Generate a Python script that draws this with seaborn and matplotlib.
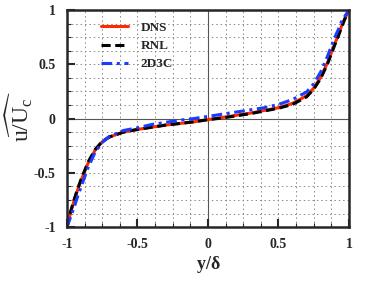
import matplotlib
matplotlib.use("Agg")
import matplotlib.pyplot as plt
import numpy as np
import pandas as pd
import seaborn as sns
from matplotlib.ticker import MultipleLocator

y_pos = [-1.0, -0.975, -0.95, -0.925, -0.9, -0.85, -0.8, -0.75, -0.7, -0.6, -0.5,
         -0.4, -0.3, -0.2, -0.1, 0.0, 0.1, 0.2, 0.3, 0.4, 0.5, 0.6, 0.7, 0.75,
         0.8, 0.85, 0.9, 0.925, 0.95, 0.975, 1.0]
u_dns = [-1.0, -0.87, -0.76, -0.66, -0.57, -0.41, -0.29, -0.215, -0.17, -0.125, -0.10,
         -0.08, -0.06, -0.045, -0.03, -0.01, 0.01, 0.03, 0.05, 0.075, 0.10, 0.14, 0.21, 0.28,
         0.38, 0.52, 0.69, 0.77, 0.86, 0.93, 1.0]
u_rnl = [-1.0, -0.86, -0.75, -0.65, -0.56, -0.40, -0.285, -0.21, -0.17, -0.125, -0.10,
         -0.08, -0.06, -0.045, -0.03, -0.01, 0.005, 0.025, 0.045, 0.07, 0.095, 0.13, 0.20, 0.27,
         0.37, 0.51, 0.68, 0.76, 0.85, 0.93, 1.0]
u_2d3c = [-1.0, -0.91, -0.82, -0.72, -0.63, -0.45, -0.31, -0.22, -0.165, -0.11, -0.085,
          -0.055, -0.035, -0.015, 0.0, 0.02, 0.04, 0.06, 0.08, 0.10, 0.13, 0.175, 0.245, 0.32,
          0.43, 0.58, 0.75, 0.82, 0.90, 0.95, 1.0]
tick_vals = [-1, -0.5, 0, 0.5, 1]
tick_text = ["-1", "-0.5", "0", "0.5", "1"]

df = pd.DataFrame({
    "y": y_pos * 3,
    "u": u_dns + u_rnl + u_2d3c,
    "case": ["DNS"] * len(y_pos) + ["RNL"] * len(y_pos) + ["2D3C"] * len(y_pos),
})

sns.set_style("ticks")
plt.rcParams["font.family"] = ["Liberation Serif", "DejaVu Serif"]
plt.rcParams["mathtext.fontset"] = "custom"
plt.rcParams["mathtext.rm"] = "Liberation Serif"
plt.rcParams["mathtext.bf"] = "Liberation Serif:bold"

fig = plt.figure(figsize=(3.74, 2.84), dpi=100)
ax = fig.add_axes([0.179, 0.20, 0.754, 0.765])

# dotted grid at every 0.125
for v in np.arange(-1, 1.001, 0.125):
    if abs(v) < 1e-9 or abs(abs(v) - 1) < 1e-9:
        continue
    ax.axvline(v, color="#888888", lw=0.7, ls=(0, (1.5, 3)), zorder=0)
    ax.axhline(v, color="#888888", lw=0.7, ls=(0, (1.5, 3)), zorder=0)
ax.axvline(0, color="#555555", lw=0.8, zorder=0)
ax.axhline(0, color="#555555", lw=0.8, zorder=0)

styles = {"DNS": ("#ff2a00", "-"), "RNL": ("black", (0, (3, 1.5))),
          "2D3C": ("#1a3cff", (0, (3.5, 1.5, 1, 1.5)))}
for case in ["DNS", "RNL", "2D3C"]:
    color, ls = styles[case]
    sns.lineplot(data=df[df["case"] == case], x="y", y="u", ax=ax, color=color,
                 linestyle=ls, lw=2.2, label=case, sort=False, errorbar=None)

ax.set_xlim(-1, 1)
ax.set_ylim(-1, 1)
ax.set_xticks(tick_vals, tick_text, fontweight="bold")
ax.set_yticks(tick_vals, tick_text, fontweight="bold")
ax.xaxis.set_minor_locator(MultipleLocator(0.125))
ax.yaxis.set_minor_locator(MultipleLocator(0.125))
ax.tick_params(which="major", direction="in", length=6, width=1.5, labelsize=10, pad=8)
ax.tick_params(which="minor", direction="in", length=3, width=0.8)
for sp in ax.spines.values():
    sp.set_linewidth(1.8)

ax.set_xlabel(r"y/$\mathbf{\delta}$", fontsize=13, fontweight="bold", labelpad=2)
ax.set_ylabel(r"$\widehat{\mathrm{u/U_c}}$", fontsize=17)
ax.yaxis.set_label_coords(-0.115, 0.51)

leg = ax.legend(loc="upper left", frameon=False, handlelength=2.0, handletextpad=1.0,
                fontsize=9.5, bbox_to_anchor=(0.08, 1.0), labelspacing=0.45)
for t in leg.get_texts():
    t.set_fontweight("bold")

fig.savefig("out.png", dpi=100)
